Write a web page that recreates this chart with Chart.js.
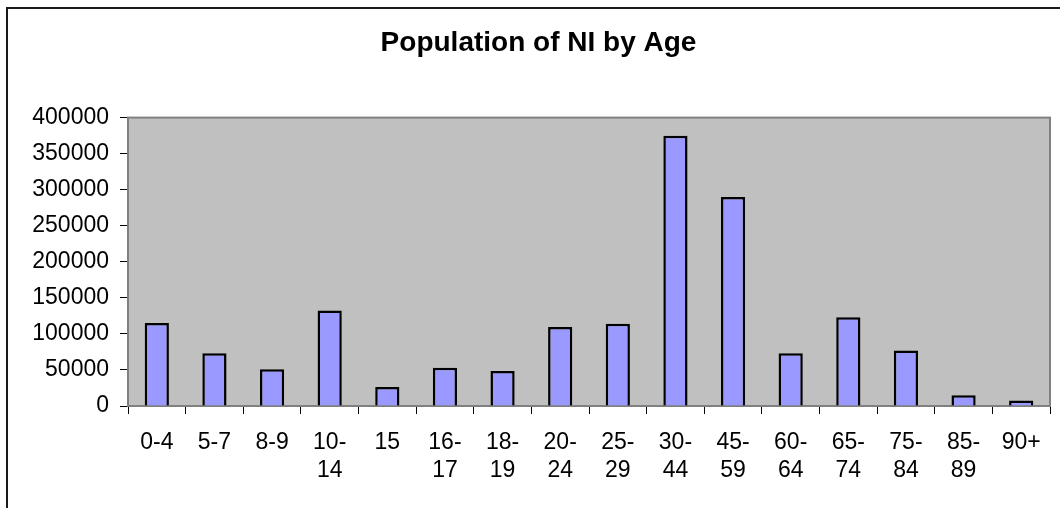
<!DOCTYPE html>
<html>
<head>
<meta charset="utf-8">
<script src="https://cdn.jsdelivr.net/npm/chart.js@4/dist/chart.umd.min.js"></script>
<style>
  html, body { margin: 0; padding: 0; background: #fff; overflow: hidden; }
  #wrap { position: relative; width: 1060px; height: 508px; overflow: hidden; }
  #frame { position: absolute; left: 6px; top: 7px; width: 1100px; height: 600px;
           border: 2px solid #1a1a1a; box-sizing: border-box; }
  #chart { position: absolute; left: 27px; top: 0; }
</style>
</head>
<body>
<div id="wrap">
  <div id="frame"></div>
  <canvas id="chart" width="1033" height="508"></canvas>
</div>
<script>
// Age bands and population counts
const ageGroups = ['0-4', '5-7', '8-9', '10-14', '15', '16-17', '18-19', '20-24',
  '25-29', '30-44', '45-59', '60-64', '65-74', '75-84', '85-89', '90+'];
const population = [115000, 73000, 51000, 132500, 26500, 53000, 48500, 109500,
  114000, 375000, 290000, 73000, 123000, 77000, 15000, 7500];
const yTicks = [0, 50000, 100000, 150000, 200000, 250000, 300000, 350000, 400000];

const FONT = 'Arial, "Liberation Sans", sans-serif';

// grey plot area with a thin border, like the old spreadsheet charts
const plotArea = {
  id: 'plotArea',
  beforeDraw(chart) {
    const { ctx, chartArea: a } = chart;
    ctx.save();
    ctx.fillStyle = '#c0c0c0';
    ctx.fillRect(a.left, a.top, a.right - a.left, a.bottom - a.top);
    ctx.strokeStyle = '#808080';
    ctx.lineWidth = 2;
    ctx.strokeRect(a.left, a.top, a.right - a.left, a.bottom - a.top);
    ctx.restore();
  }
};

// wrap "10-14" style labels after the dash
function splitLabel(label) {
  if (label.length > 3 && label.includes('-')) {
    const i = label.indexOf('-');
    return [label.slice(0, i + 1), label.slice(i + 1)];
  }
  return label;
}

new Chart(document.getElementById('chart'), {
  type: 'bar',
  data: {
    labels: ageGroups,
    datasets: [{
      data: population,
      backgroundColor: '#9999ff',
      borderColor: '#000',
      borderWidth: 2.5,
      borderSkipped: 'bottom',
      barPercentage: 0.42,
      categoryPercentage: 1
    }]
  },
  options: {
    responsive: false,
    animation: false,
    layout: { padding: { left: 0, right: 10, top: 0, bottom: 0 } },
    plugins: {
      legend: { display: false },
      tooltip: { enabled: false },
      title: {
        display: true,
        text: 'Population of NI by Age',
        color: '#000',
        font: { family: FONT, size: 28, weight: 'bold', lineHeight: 1.2 },
        padding: { top: 26, bottom: 58 }
      }
    },
    scales: {
      x: {
        grid: { drawOnChartArea: false, tickLength: 8, tickColor: '#000', offset: true },
        border: { color: '#808080', width: 2 },
        ticks: {
          color: '#000',
          padding: 14,
          maxRotation: 0,
          autoSkip: false,
          font: { family: FONT, size: 23, lineHeight: 1.25 },
          callback(value) { return splitLabel(this.getLabelForValue(value)); }
        },
        afterFit(scale) { scale.height = 102; }
      },
      y: {
        min: 0,
        max: 400000,
        afterBuildTicks(scale) { scale.ticks = yTicks.map(v => ({ value: v })); },
        grid: { drawOnChartArea: false, tickLength: 8, tickColor: '#000' },
        border: { color: '#808080', width: 2 },
        ticks: {
          color: '#000',
          padding: 11,
          font: { family: FONT, size: 23 },
          callback(value) { return String(value); }
        },
        afterFit(scale) { scale.width = 101; }
      }
    }
  },
  plugins: [plotArea]
});
</script>
</body>
</html>
